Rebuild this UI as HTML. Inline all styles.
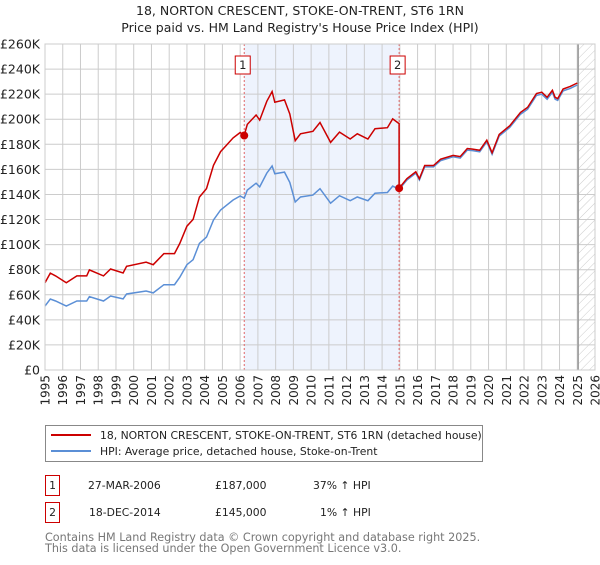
<!DOCTYPE html>
<html><head><meta charset="utf-8"><style>
body{margin:0;background:#fff;font-family:"Liberation Sans","DejaVu Sans",sans-serif;}
svg text{font-family:"DejaVu Sans","Liberation Sans",sans-serif;}
</style></head><body>
<svg id="c" width="600" height="560" xmlns="http://www.w3.org/2000/svg">
<defs><pattern id="hatch" width="6" height="6" patternUnits="userSpaceOnUse" patternTransform="rotate(45)"><line x1="0" y1="0" x2="0" y2="6" stroke="#ccc" stroke-width="1"/></pattern></defs>
<text x="300" y="15" text-anchor="middle" font-size="12.5" fill="#222">18, NORTON CRESCENT, STOKE-ON-TRENT, ST6 1RN</text>
<text x="300" y="32" text-anchor="middle" font-size="12.5" fill="#222">Price paid vs. HM Land Registry's House Price Index (HPI)</text>
<g id="plot"></g>
<g>
<rect x="45.5" y="425.5" width="437" height="36" fill="#fff" stroke="#888"/>
<line x1="51" y1="435" x2="91" y2="435" stroke="#cc0000" stroke-width="2"/>
<text x="100" y="439" font-size="10.8" fill="#222">18, NORTON CRESCENT, STOKE-ON-TRENT, ST6 1RN (detached house)</text>
<line x1="51" y1="451" x2="91" y2="451" stroke="#5b8fd6" stroke-width="2"/>
<text x="100" y="455" font-size="10.8" fill="#222">HPI: Average price, detached house, Stoke-on-Trent</text>
</g>
<g font-size="10.8" fill="#222">
<rect x="45.5" y="475.5" width="14" height="20" fill="#fff" stroke="#cc0000"/>
<text x="52.5" y="489" text-anchor="middle">1</text>
<text x="88" y="489">27-MAR-2006</text><text x="215" y="489">£187,000</text><text x="313" y="489">37% ↑ HPI</text>
<rect x="45.5" y="502.5" width="14" height="20" fill="#fff" stroke="#cc0000"/>
<text x="52.5" y="516" text-anchor="middle">2</text>
<text x="89" y="516">18-DEC-2014</text><text x="215" y="516">£145,000</text><text x="320" y="516">1% ↑ HPI</text>
</g>
<text x="45" y="541" font-size="11.2" fill="#777">Contains HM Land Registry data © Crown copyright and database right 2025.</text>
<text x="45" y="552" font-size="11.2" fill="#777">This data is licensed under the Open Government Licence v3.0.</text>
</svg>
<script>
const hpiYears=[1995.0,1995.3,1995.6,1996.2,1996.8,1997.35,1997.5,1998.3,1998.7,1999.4,1999.6,2000.7,2001.1,2001.7,2002.3,2002.6,2003.0,2003.35,2003.7,2004.1,2004.5,2004.9,2005.2,2005.6,2006.0,2006.23,2006.4,2006.9,2007.1,2007.5,2007.8,2007.95,2008.5,2008.8,2009.1,2009.4,2010.1,2010.5,2011.1,2011.6,2012.2,2012.6,2013.2,2013.6,2014.3,2014.6,2014.96,2015.4,2015.9,2016.1,2016.4,2016.9,2017.3,2018.0,2018.4,2018.8,2019.1,2019.5,2019.9,2020.2,2020.6,2021.2,2021.8,2022.2,2022.7,2023.0,2023.3,2023.6,2023.75,2023.9,2024.2,2024.6,2025.0];
const hpiValues=[51,56.6,55,51,55,55,58.5,55,59,56.7,60.6,63,61.5,68,68,74,84,88,101,106,119.6,127.6,131,135.6,138.8,137,143.5,149,146,157,162.7,156.5,157.8,149.6,134,138,139.5,144.6,133,139,135,138,135,141,141.6,146.7,144,151.5,157,151.5,162,162,167,170,169,175.4,175,174,182,172,186.6,193.5,204,208,219,220,216,221.5,216,215,222.6,224.6,227.3];
const saleYears=[2006.23,2014.96];
const salePrices=[187,145];
const saleLabels=["1","2"];
const yTicks=[0,20,40,60,80,100,120,140,160,180,200,220,240,260];
const xTicks=[1995,1996,1997,1998,1999,2000,2001,2002,2003,2004,2005,2006,2007,2008,2009,2010,2011,2012,2013,2014,2015,2016,2017,2018,2019,2020,2021,2022,2023,2024,2025,2026];
const forecastStart=2025.05;

const L=45,R=595,T=44,B=370;
const x=v=>L+(v-1995)/(2026-1995)*(R-L);
const y=v=>B-v/260*(B-T);
const NS="http://www.w3.org/2000/svg";
const g=document.getElementById('plot');
function mk(t,a,p){const e=document.createElementNS(NS,t);for(const k in a)e.setAttribute(k,a[k]);(p||g).appendChild(e);return e;}
function hpiAt(t){for(let i=1;i<hpiYears.length;i++){if(t<=hpiYears[i]){const f=(t-hpiYears[i-1])/(hpiYears[i]-hpiYears[i-1]);return hpiValues[i-1]+f*(hpiValues[i]-hpiValues[i-1]);}}return hpiValues[hpiValues.length-1];}
let sh=mk('rect',{x:x(saleYears[0]),y:T,width:x(saleYears[1])-x(saleYears[0]),height:B-T,fill:'#eef3fd'});


let hz=mk('rect',{x:x(forecastStart),y:T,width:R-x(forecastStart),height:B-T,fill:'url(#hatch)'});


yTicks.forEach(v=>{const l=mk('line',{x1:L,x2:R,y1:y(v),y2:y(v),stroke:'#ccc','stroke-width':1});


const t=mk('text',{x:L-5,y:y(v)+4.5,'text-anchor':'end','font-size':12.5,fill:'#222'});t.textContent=v===0?'£0':'£'+v+'K';

});
xTicks.forEach(v=>{const l=mk('line',{x1:x(v),x2:x(v),y1:T,y2:B,stroke:'#ccc','stroke-width':1});


const t=mk('text',{x:0,y:0,'text-anchor':'end','font-size':12,fill:'#222',transform:`translate(${x(v)+4.5},${B+5}) rotate(-90)`});t.textContent=v;

});
let fl=mk('line',{x1:x(forecastStart),x2:x(forecastStart),y1:T,y2:B,stroke:'#999','stroke-width':1.5});


saleYears.forEach((s,i)=>{const l=mk('line',{x1:x(s),x2:x(s),y1:T,y2:B,stroke:'#e06666','stroke-width':1,'stroke-dasharray':'2,2'});


const b=mk('rect',{x:x(s)-9,y:56,width:15,height:18,fill:'#fff',stroke:'#cc0000'});


const t=mk('text',{x:x(s)-1.5,y:69,'text-anchor':'middle','font-size':11.5,fill:'#222'});t.textContent=saleLabels[i];

});
const hp=hpiYears.map((t,i)=>x(t).toFixed(1)+','+y(hpiValues[i]).toFixed(1)).join(' ');
let hl=mk('polyline',{points:hp,fill:'none',stroke:'#5b8fd6','stroke-width':1.5});


const pts=[];let dropped=false;
hpiYears.forEach((t,i)=>{const k=t>=saleYears[1]?1:0;
if(k===1&&!dropped){pts.push([saleYears[1],salePrices[0]*hpiAt(saleYears[1])/hpiAt(saleYears[0])]);pts.push([saleYears[1],salePrices[1]]);dropped=true;}
const v=salePrices[k]*hpiValues[i]/hpiAt(saleYears[k]);
pts.push([t,v]);});
let pl=mk('polyline',{points:pts.map(p=>x(p[0]).toFixed(1)+','+y(p[1]).toFixed(1)).join(' '),fill:'none',stroke:'#cc0000','stroke-width':1.5});


saleYears.forEach((s,i)=>{const c=mk('circle',{cx:x(s),cy:y(salePrices[i]),r:4,fill:'#cc0000'});

});
let fr=mk('rect',{x:L,y:T,width:R-L,height:B-T,fill:'none',stroke:'#ccc'});


</script>
</body></html>
